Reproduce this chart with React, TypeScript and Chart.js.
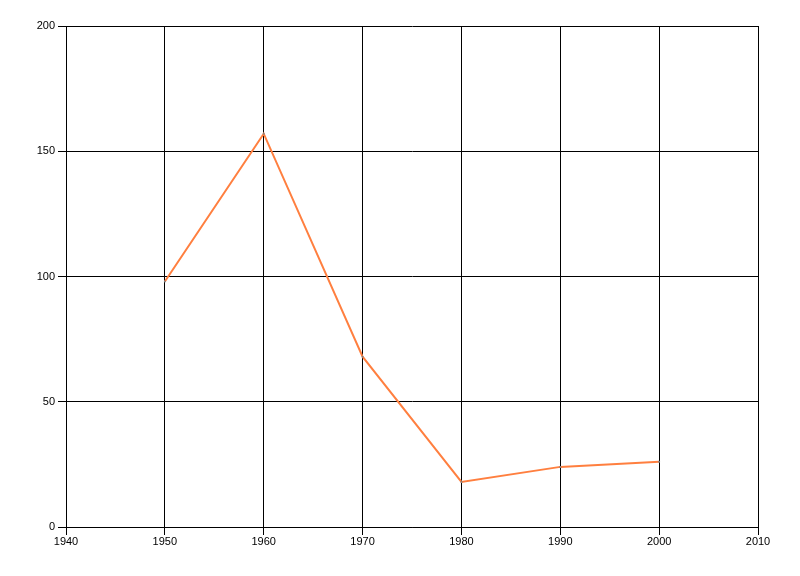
import { Chart, registerables } from "chart.js"
import React, { useEffect, useRef } from "react"

Chart.register(...registerables)

const years = [1950, 1960, 1970, 1980, 1990, 2000]
const values = [98, 157, 68, 18, 24, 26]

const xMin = 1940
const xMax = 2010
const xStep = 10
const yMin = 0
const yMax = 200
const yStep = 50

const App: React.FC = () => {
  const chartRef = useRef<HTMLCanvasElement>(null)
  const chartInstanceRef = useRef<Chart | null>(null)

  useEffect(() => {
    const ctx = chartRef.current?.getContext("2d")

    if (ctx) {
      const font = { family: "'Liberation Sans', Arial, sans-serif", size: 11 }
      chartInstanceRef.current = new Chart(ctx, {
        type: "line",
        data: {
          datasets: [
            {
              label: "Series",
              data: years.map((y, i) => ({ x: y, y: values[i] })),
              borderColor: "#ff7f3f",
              borderWidth: 2,
              pointRadius: 1,
              pointBackgroundColor: "#7f7f7f",
              pointBorderWidth: 0,
              tension: 0,
            },
          ],
        },
        options: {
          animation: false,
          responsive: false,
          layout: { padding: { top: 26, right: 42, left: 0, bottom: 0 } },
          plugins: {
            legend: { display: false },
            tooltip: { enabled: false },
          },
          scales: {
            x: {
              type: "linear",
              min: xMin,
              max: xMax,
              afterFit: (s) => {
                s.height = 49
              },
              ticks: {
                stepSize: xStep,
                color: "#000",
                font,
                padding: 0,
                maxRotation: 0,
                callback: (v) => String(v),
              },
              grid: { color: "#000", lineWidth: 1, tickLength: 8 },
              border: { color: "#000" },
            },
            y: {
              min: yMin,
              max: yMax,
              afterFit: (s) => {
                s.width = 66
              },
              ticks: {
                stepSize: yStep,
                color: "#000",
                font,
                padding: 3,
                callback: (v) => String(v),
              },
              grid: { color: "#000", lineWidth: 1, tickLength: 8 },
              border: { color: "#000" },
            },
          },
        },
      })
    }

    return () => {
      chartInstanceRef.current?.destroy()
    }
  }, [])

  return (
    <div style={{ position: "fixed", left: 0, top: 0, width: 800, height: 576, background: "#fff" }}>
      <canvas ref={chartRef} width={800} height={576} style={{ width: 800, height: 576 }} />
    </div>
  )
}

export default App
